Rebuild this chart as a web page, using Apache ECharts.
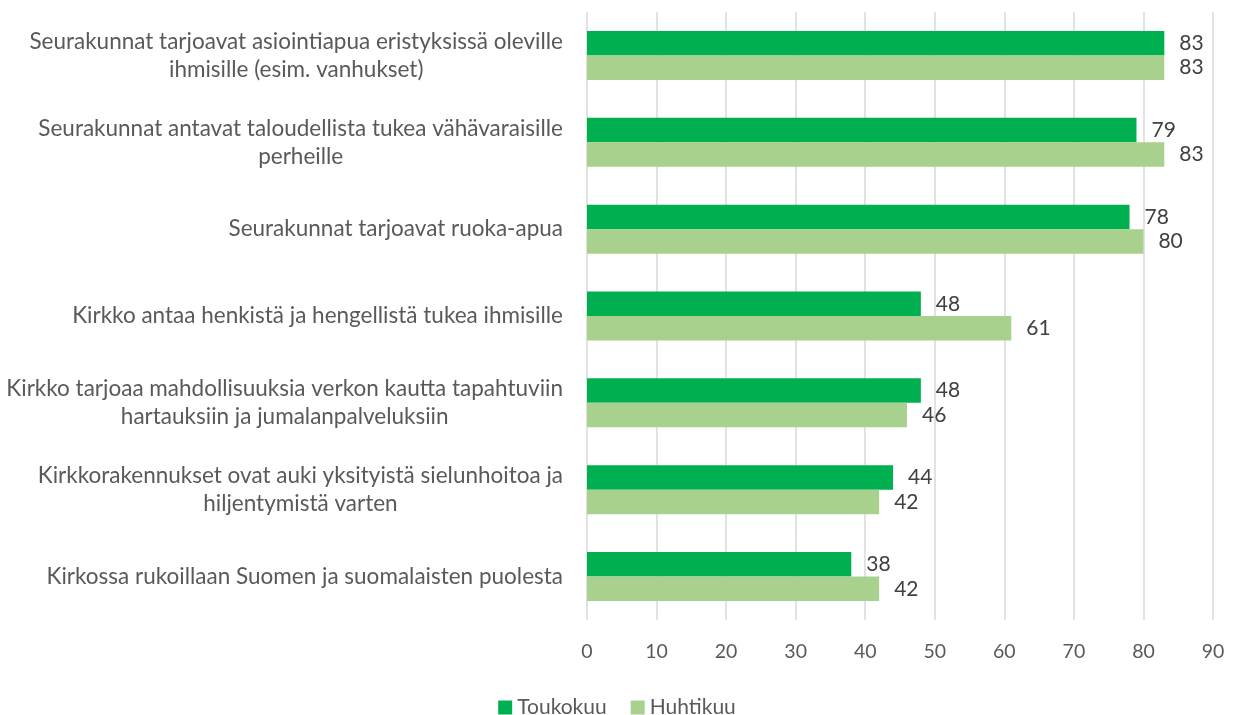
<!DOCTYPE html>
<html>
<head>
<meta charset="utf-8">
<script src="https://cdn.jsdelivr.net/npm/echarts@6/dist/echarts.min.js"></script>
<style>
  html, body { margin: 0; padding: 0; background: #fff; }
  #chart { width: 1234px; height: 715px; }
</style>
</head>
<body>
<div id="chart"></div>
<script>
const categories = [
  "Seurakunnat tarjoavat asiointiapua eristyksissä oleville\nihmisille (esim. vanhukset)",
  "Seurakunnat antavat taloudellista tukea vähävaraisille\nperheille",
  "Seurakunnat tarjoavat ruoka-apua",
  "Kirkko antaa henkistä ja hengellistä tukea ihmisille",
  "Kirkko tarjoaa mahdollisuuksia verkon kautta tapahtuviin\nhartauksiin ja jumalanpalveluksiin",
  "Kirkkorakennukset ovat auki yksityistä sielunhoitoa ja\nhiljentymistä varten",
  "Kirkossa rukoillaan Suomen ja suomalaisten puolesta"
];
const toukokuu = [83, 79, 78, 48, 48, 44, 38];
const huhtikuu = [83, 83, 80, 61, 46, 42, 42];

const chart = echarts.init(document.getElementById("chart"));
const font = "Lato, 'Open Sans', sans-serif";

const labelStyle = {
  show: true,
  position: "right",
  distance: 15,
  color: "#404040",
  fontSize: 21,
  fontFamily: font
};

const option = {
  animation: false,
  grid: { left: 587, right: 21, top: 12, bottom: 95 },
  legend: {
    top: 692,
    left: "center",
    itemWidth: 14,
    itemHeight: 14,
    itemGap: 24,
    icon: "rect",
    textStyle: { color: "#595959", fontSize: 21, fontFamily: font },
    data: ["Toukokuu", "Huhtikuu"]
  },
  xAxis: {
    type: "value",
    min: 0,
    max: 90,
    interval: 10,
    axisLine: { show: false },
    axisTick: { show: false },
    axisLabel: { color: "#595959", fontSize: 19.5, fontFamily: font, margin: 22 },
    splitLine: { lineStyle: { color: "#D9D9D9", width: 1.5 } }
  },
  yAxis: {
    type: "category",
    inverse: true,
    data: categories,
    axisLine: { show: false },
    axisTick: { show: false },
    axisLabel: {
      margin: 24,
      align: "right",
      formatter: (v) => v.split("\n").map((s) => "{c|" + s + "}").join("\n"),
      rich: {
        c: {
          align: "center",
          color: "#595959",
          fontSize: 22.5,
          lineHeight: 28,
          fontFamily: font
        }
      }
    }
  },
  series: [
    {
      name: "Toukokuu",
      type: "bar",
      data: toukokuu,
      barWidth: 24.5,
      barGap: "0%",
      itemStyle: { color: "#00B050" },
      label: labelStyle
    },
    {
      name: "Huhtikuu",
      type: "bar",
      data: huhtikuu,
      barWidth: 24.5,
      barGap: "0%",
      itemStyle: { color: "#A9D18E" },
      label: labelStyle
    }
  ]
};

chart.setOption(option);
window.addEventListener("resize", () => chart.resize());
</script>
</body>
</html>
